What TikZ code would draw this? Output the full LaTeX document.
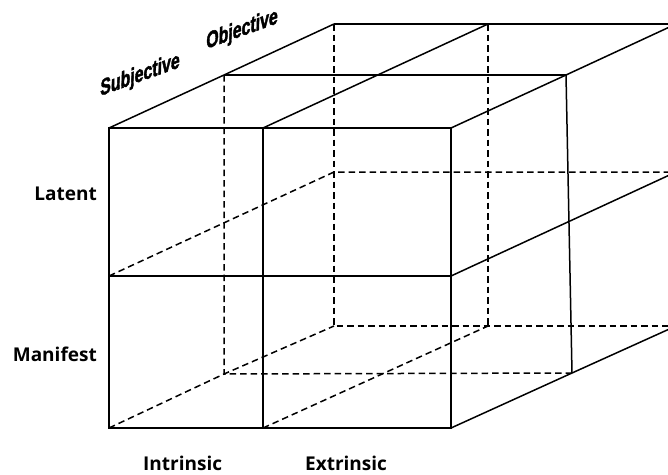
\documentclass[tikz,border=0pt]{standalone}
\usepackage{fontspec}
\newfontfamily\labelfont{Open Sans}
\newfontfamily\slantfont[BoldFeatures={FakeBold=2.2}]{Liberation Sans}
\begin{document}
\begin{tikzpicture}[x=1pt,y=-1pt,
  edge/.style={line width=1.5pt, line join=miter},
  hidden/.style={line width=1.5pt, dash pattern=on 6.5pt off 4pt},
  axislabel/.style={font=\labelfont\bfseries\fontsize{19}{22}\selectfont, inner sep=0pt},
  depthlabel/.style={font=\slantfont\bfseries\fontsize{23}{26}\selectfont, inner sep=0pt, yslant=0.36, xslant=0.03, xscale=0.69}]
\useasboundingbox (0,0) rectangle (668,474);
\clip (0,0) rectangle (668,474);
% front face
\coordinate (F00) at (109,128); \coordinate (F10) at (263,128); \coordinate (F20) at (451,128);
\coordinate (F01) at (109,276); \coordinate (F11) at (263,276); \coordinate (F21) at (451,276);
\coordinate (F02) at (109,428); \coordinate (F12) at (263,428); \coordinate (F22) at (451,428);
% mid depth
\coordinate (M00) at (224,75);  \coordinate (M20) at (566,75);
\coordinate (M02) at (224,374); \coordinate (M22) at (572,373);
% back
\coordinate (B00) at (334,24);  \coordinate (B10) at (488,24);  \coordinate (B20) at (676,24);
\coordinate (B01) at (334,172); \coordinate (B21) at (676,172);
\coordinate (B02) at (334,326); \coordinate (B12) at (488,326); \coordinate (B22) at (676,326);
% hidden lines
\draw[hidden] (M00) -- (M02) -- (M22);
\draw[hidden] (B00) -- (B02) -- (B22);
\draw[hidden] (B10) -- (B12);
\draw[hidden] (F01) -- (B01) -- (B21);
\draw[hidden] (F02) -- (M02) -- (B02);
\draw[hidden] (F12) -- (B12);
% visible lines
\draw[edge] (F00) rectangle (F22);
\draw[edge] (F01) -- (F21);
\draw[edge] (F10) -- (F12);
\draw[edge] (F00) -- (M00) -- (B00);
\draw[edge] (F10) -- (B10);
\draw[edge] (F20) -- (M20) -- (B20);
\draw[edge] (M00) -- (M20);
\draw[edge] (B00) -- (B20);
\draw[edge] (M20) -- (M22);
\draw[edge] (F21) -- (B21);
\draw[edge] (F22) -- (M22) -- (B22);
% labels
\node[axislabel, anchor=base east] (latent) at (97,200.7) {Latent};
\node[axislabel, anchor=base east] (manifest) at (97,361.7) {Manifest};
\node[axislabel, anchor=base west] (intrinsic) at (143,470) {Intrinsic};
\node[axislabel, anchor=base west] (extrinsic) at (305,470) {Extrinsic};
\node[depthlabel, anchor=base west] (subjective) at (100,96) {Subjective};
\node[depthlabel, anchor=base west] (objective) at (206,49) {Objective};
\end{tikzpicture}
\end{document}
